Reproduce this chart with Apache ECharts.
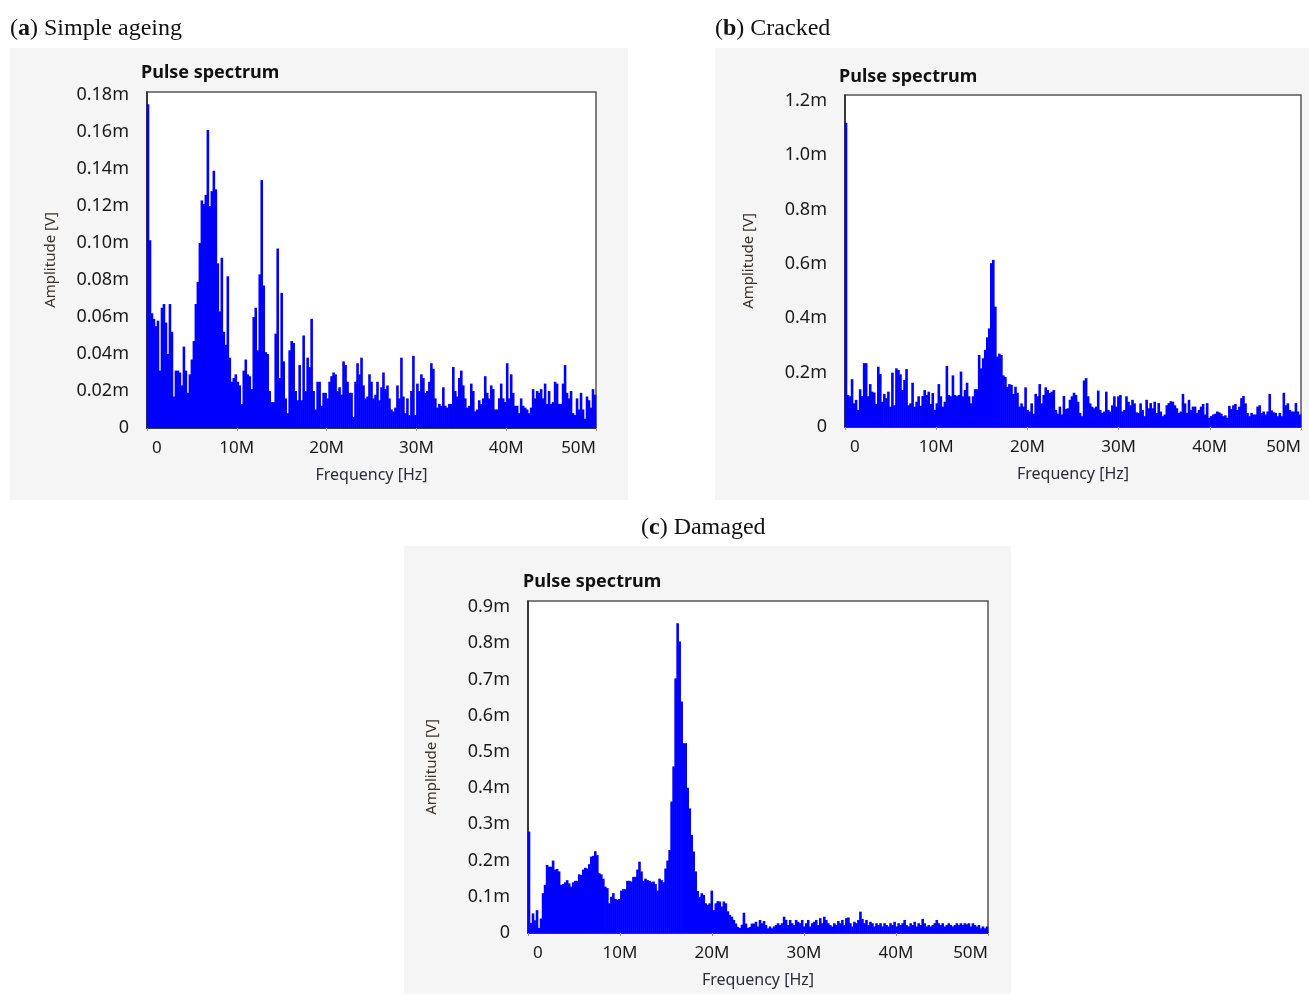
<!DOCTYPE html>
<html><head><meta charset="utf-8">
<script src="https://cdn.jsdelivr.net/npm/echarts@6/dist/echarts.min.js"></script>
<style>html,body{margin:0;padding:0;background:#fff}#c{width:1309px;height:995px}</style>
</head><body><div id="c"></div>
<script>
// ---- data ----
const X_TICKS_MHZ = [0, 10, 20, 30, 40, 50];
const CAPTION_LETTERS = ['a', 'b', 'c'];
const CAPTIONS = ['Simple ageing', 'Cracked', 'Damaged'];
const PANEL_TITLE = 'Pulse spectrum';
const X_NAME = 'Frequency [Hz]';
const Y_NAME = 'Amplitude [V]';

// amplitudes in mV, evenly spaced frequency bins 0..50 MHz
const A_AMP = [
0.175,0.1015,0.062,0.059,0.055,0.058,0.031,0.065,0.067,0.057,
0.040,0.067,0.052,0.017,0.031,0.031,0.030,0.023,0.044,0.031,
0.019,0.029,0.037,0.047,0.067,0.079,0.100,0.123,0.121,0.126,
0.161,0.120,0.128,0.139,0.129,0.089,0.063,0.092,0.052,0.045,
0.082,0.038,0.025,0.027,0.029,0.025,0.023,0.013,0.031,0.037,
0.029,0.028,0.021,0.060,0.065,0.042,0.083,0.134,0.077,0.041,
0.040,0.020,0.014,0.014,0.051,0.097,0.027,0.073,0.036,0.016,
0.008,0.042,0.047,0.046,0.020,0.015,0.034,
0.015,0.050,0.020,0.038,0.033,0.059,0.020,0.010,0.025,0.025,
0.012,0.019,0.019,0.016,0.025,0.028,0.030,0.029,0.020,0.022,
0.018,0.036,0.034,0.025,0.019,0.019,0.006,0.025,0.035,0.029,
0.038,0.023,0.016,0.017,0.029,0.025,0.016,0.018,0.025,0.015,0.022,
0.030,0.021,0.023,0.016,0.010,0.009,0.011,0.023,0.016,0.038,
0.017,0.008,0.016,0.007,0.020,0.039,0.007,0.024,0.020,0.029,
0.027,0.019,0.020,0.025,0.035,0.032,0.016,0.011,0.013,0.012,0.022,
0.012,0.011,0.013,0.013,0.033,0.020,0.017,0.027,0.031,0.023,
0.016,0.011,0.012,0.024,0.020,0.009,0.010,0.015,0.013,0.016,
0.028,0.019,0.016,0.023,0.021,0.010,0.010,0.016,0.024,0.016,0.014,
0.035,0.016,0.029,0.019,0.012,0.012,0.008,0.016,0.012,0.011,
0.010,0.008,0.011,0.021,0.016,0.020,0.019,0.021,0.016,0.024,
0.013,0.020,0.013,0.014,0.025,0.024,0.013,0.013,0.024,0.034,
0.019,0.016,0.020,0.008,0.007,0.016,0.010,0.019,0.010,0.005,0.017,
0.015,0.011,0.021,0.018
];

const B_AMP = [
1.12,0.118,0.113,0.176,0.087,0.10,0.063,0.139,0.114,0.235,
0.235,0.113,0.158,0.13,0.127,0.085,0.222,0.195,0.093,0.122,
0.106,0.13,0.075,0.2,0.08,0.216,0.21,0.194,0.136,0.173,
0.213,0.08,0.087,0.163,0.075,0.093,0.113,0.078,0.114,0.136,
0.118,0.13,0.085,0.125,0.063,0.087,0.158,0.113,0.075,0.093,
0.225,0.118,0.113,0.19,0.118,0.113,0.118,0.204,0.113,0.136,
0.163,0.113,0.087,0.113,0.139,0.139,0.265,0.216,0.253,0.284,
0.33,0.363,0.603,0.615,0.443,0.259,0.27,0.265,0.19,0.184,
0.148,0.158,0.155,0.122,0.148,0.126,0.075,0.087,0.075,0.146,
0.063,0.057,0.087,0.049,0.122,0.113,0.158,0.087,0.118,0.146,
0.136,0.125,0.13,0.136,0.063,0.049,0.075,0.046,0.114,0.066,
0.069,0.1,0.113,0.126,0.118,0.093,0.052,0.04,0.171,0.18,
0.113,0.087,0.075,0.069,0.075,0.134,0.063,0.052,0.057,0.13,
0.063,0.057,0.08,0.113,0.075,0.113,0.118,0.057,0.063,0.113,
0.093,0.08,0.1,0.087,0.054,0.052,0.087,0.063,0.04,0.1,
0.069,0.088,0.069,0.093,0.052,0.088,0.057,0.04,0.046,0.08,
0.088,0.095,0.093,0.08,0.069,0.052,0.057,0.122,0.087,0.052,
0.1,0.063,0.075,0.075,0.052,0.063,0.075,0.085,0.046,0.088,
0.034,0.04,0.046,0.049,0.057,0.054,0.049,0.04,0.043,0.034,
0.078,0.066,0.08,0.085,0.063,0.075,0.106,0.114,0.087,0.052,
0.04,0.052,0.046,0.046,0.075,0.08,0.052,0.057,0.046,0.057,
0.122,0.061,0.054,0.052,0.04,0.052,0.04,0.126,0.08,0.087,
0.063,0.057,0.057,0.088,0.057,0.046
];

const C_AMP = [
0.28,0.028,0.054,0.035,0.063,0.014,0.04,0.11,0.133,0.188,
0.183,0.183,0.2,0.175,0.177,0.17,0.133,0.135,0.14,0.146,
0.137,0.128,0.14,0.144,0.144,0.162,0.16,0.175,0.18,0.178,
0.19,0.211,0.213,0.226,0.215,0.165,0.162,0.15,0.128,0.124,
0.082,0.1,0.11,0.094,0.092,0.094,0.117,0.121,0.121,0.144,
0.144,0.142,0.155,0.155,0.175,0.197,0.17,0.144,0.15,0.146,
0.144,0.14,0.142,0.135,0.117,0.15,0.146,0.14,0.178,0.2,
0.229,0.363,0.46,0.703,0.855,0.805,0.639,0.524,0.524,0.401,
0.344,0.271,0.225,0.17,0.116,0.1,0.11,0.105,0.082,0.078,
0.082,0.117,0.063,0.082,0.088,0.087,0.073,0.087,0.082,0.06,
0.05,0.045,0.036,0.026,0.017,0.014,0.023,0.056,0.026,0.014,
0.017,0.026,0.026,
0.031,0.018,0.036,0.027,0.033,0.022,0.013,0.018,0.013,0.018,
0.022,0.027,0.022,0.027,0.045,0.036,0.022,0.036,0.027,0.022,
0.036,0.031,0.027,0.036,0.018,0.027,0.036,0.018,0.027,0.031,
0.036,0.022,0.041,0.027,0.045,0.036,0.027,0.022,0.018,0.027,
0.022,0.033,0.027,0.036,0.022,0.041,0.043,0.027,0.018,0.031,
0.027,0.036,0.059,0.039,0.027,0.036,0.022,0.031,0.027,0.018,
0.027,0.022,0.027,0.018,0.027,0.022,0.018,0.027,0.022,0.031,
0.018,0.027,0.022,0.027,0.036,0.022,0.018,0.027,0.022,0.031,
0.018,0.027,0.022,0.039,0.027,0.018,0.022,0.018,0.022,0.027,
0.036,0.027,0.022,0.027,0.018,0.022,0.027,0.022,0.018,0.022,
0.027,0.022,0.027,0.022,0.027,0.024,0.027,0.018,0.027,0.022,
0.018,0.022,0.013,0.018,0.013,0.018
];

const Y_TICK_STEP = [0.02, 0.2, 0.1];
const Y_DECIMALS = [2, 1, 1];
const Y_TOP = [0.1816, 1.222, 0.9166];
const SPECTRA = [A_AMP, B_AMP, C_AMP];

// ---- layout (pixels) ----
const PANELS = [
  {bg: [10, 48, 618, 452], grid: {left: 147, top: 92, width: 449, height: 336}, title: [141, 64], cap: [10, 17]},
  {bg: [715, 48, 594, 452], grid: {left: 845, top: 95, width: 456, height: 332}, title: [839, 68], cap: [715, 17]},
  {bg: [404, 546, 607, 448], grid: {left: 528, top: 601, width: 460, height: 332}, title: [523, 573], cap: [641, 516]}
];

const FONT = 'Noto Sans';
const SERIF = 'Liberation Serif';

const chart = echarts.init(document.getElementById('c'), null, {renderer: 'canvas'});

const grids = [], xAxes = [], yAxes = [], series = [], titles = [], graphics = [];
PANELS.forEach((p, i) => {
  graphics.push({type: 'rect', z: -10, silent: true,
    shape: {x: p.bg[0], y: p.bg[1], width: p.bg[2], height: p.bg[3]},
    style: {fill: '#f5f5f5'}});
  grids.push(Object.assign({show: true, backgroundColor: '#ffffff', borderColor: '#555', borderWidth: 1.5}, p.grid));
  xAxes.push({
    type: 'value', gridIndex: i, min: X_TICKS_MHZ[0], max: X_TICKS_MHZ[X_TICKS_MHZ.length - 1], interval: 10,
    name: X_NAME, nameLocation: 'middle', nameGap: 39,
    nameTextStyle: {fontFamily: FONT, fontSize: 16, color: '#2b2b3b'},
    axisLine: {show: true, onZero: false, lineStyle: {color: '#222', width: 1.5}},
    axisTick: {show: true, length: 3, lineStyle: {color: '#999'}},
    splitLine: {show: false},
    axisLabel: {fontFamily: FONT, fontSize: 17, color: '#1a1a1a', margin: 12,
      alignMinLabel: 'left', alignMaxLabel: 'right',
      formatter: v => (v === 0 ? '{z|0}' : v + 'M'),
      rich: {z: {fontFamily: FONT, fontSize: 17, color: '#1a1a1a', padding: [0, 0, 0, 5]}}}
  });
  const step = Y_TICK_STEP[i], dec = Y_DECIMALS[i];
  yAxes.push({
    type: 'value', gridIndex: i, min: 0, max: Y_TOP[i], interval: step,
    name: Y_NAME, nameLocation: 'middle', nameGap: 89, nameRotate: 90,
    nameTextStyle: {fontFamily: FONT, fontSize: 15, color: '#3a3028'},
    axisLine: {show: true, lineStyle: {color: '#222', width: 1.5}},
    axisTick: {show: false},
    splitLine: {show: false},
    axisLabel: {fontFamily: FONT, fontSize: 18, color: '#1a1a1a', margin: 18,
      formatter: v => {
        const k = v / step;
        if (Math.abs(k - Math.round(k)) > 1e-6) return '';
        return v === 0 ? '0' : v.toFixed(dec) + 'm';
      }}
  });
  const amps = SPECTRA[i];
  const n = amps.length;
  const span = X_TICKS_MHZ[X_TICKS_MHZ.length - 1];
  series.push({
    type: 'bar', xAxisIndex: i, yAxisIndex: i, silent: true,
    barWidth: p.grid.width / n + 0.6,
    itemStyle: {color: '#0000ff'},
    data: amps.map((v, k) => [(k + 0.5) * span / n, v])
  });
  titles.push({left: p.title[0], top: p.title[1], padding: 0, text: PANEL_TITLE,
    textStyle: {fontFamily: FONT, fontSize: 18, fontWeight: 'bold', color: '#111'}});
  titles.push({left: p.cap[0], top: p.cap[1], padding: 0,
    text: '{p|(}{b|' + CAPTION_LETTERS[i] + '}{p|) ' + CAPTIONS[i] + '}',
    textStyle: {fontWeight: 'normal', rich: {
      p: {fontFamily: SERIF, fontSize: 24, fontWeight: 'normal', color: '#111'},
      b: {fontFamily: SERIF, fontSize: 24, fontWeight: 'bold', color: '#111'}
    }}});
});

chart.setOption({
  animation: false,
  backgroundColor: '#ffffff',
  title: titles,
  grid: grids,
  xAxis: xAxes,
  yAxis: yAxes,
  series: series,
  graphic: graphics
});
</script>
</body></html>
